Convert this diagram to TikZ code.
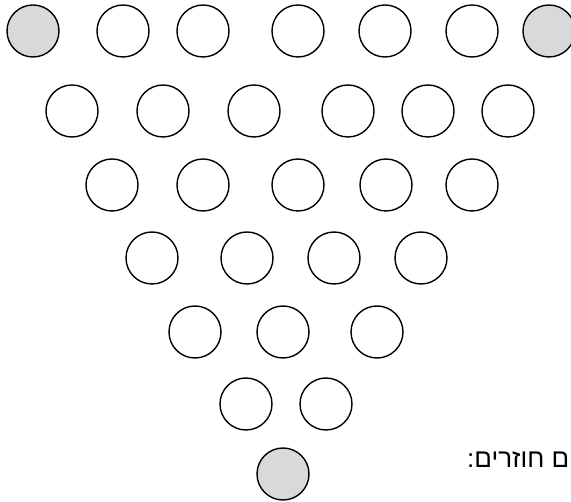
\documentclass[tikz,border=0pt]{standalone}
\usepackage{fontspec}
\newfontfamily\hebfont[Script=Hebrew]{Liberation Sans}
\TeXXeTstate=1
\newcommand\rad{52pt}

\begin{document}
\begin{tikzpicture}[x=1pt,y=-1pt,
		ball/.style={circle,draw=black,line width=1.4pt,fill=white,inner sep=0pt,minimum size=\rad},
		corner/.style={ball,fill=cornergray}]
		\definecolor{cornergray}{HTML}{D9D9D9}
		\useasboundingbox (0,0) rectangle (571,502);
		\clip (0,0) rectangle (571,502);
		% row 1
		\node(b11)[corner] at (33,31) {};
		\node(b12)[ball] at (123,31) {};
		\node(b13)[ball] at (203,31) {};
		\node(b14)[ball] at (298,31) {};
		\node(b15)[ball] at (385,31) {};
		\node(b16)[ball] at (472,31) {};
		\node(b17)[corner] at (549,31) {};
		% row 2
		\node(b21)[ball] at (72,111) {};
		\node(b22)[ball] at (163,111) {};
		\node(b23)[ball] at (254,111) {};
		\node(b24)[ball] at (348,111) {};
		\node(b25)[ball] at (428,111) {};
		\node(b26)[ball] at (508,111) {};
		% row 3
		\node(b31)[ball] at (112,185) {};
		\node(b32)[ball] at (203,185) {};
		\node(b33)[ball] at (298,185) {};
		\node(b34)[ball] at (386,185) {};
		\node(b35)[ball] at (472,185) {};
		% row 4
		\node(b41)[ball] at (152,258) {};
		\node(b42)[ball] at (247,258) {};
		\node(b43)[ball] at (334,258) {};
		\node(b44)[ball] at (421,258) {};
		% row 5
		\node(b51)[ball] at (195,332) {};
		\node(b52)[ball] at (283,332) {};
		\node(b53)[ball] at (377,332) {};
		% row 6
		\node(b61)[ball] at (246,404) {};
		\node(b62)[ball] at (326,404) {};
		% row 7
		\node(b71)[corner] at (283,474) {};
		\node(note)[anchor=base west,inner sep=0pt,font=\hebfont\fontsize{26}{30}\selectfont] at (467,468) {\beginR ם חוזרים:\endR};
	\end{tikzpicture}
\end{document}
